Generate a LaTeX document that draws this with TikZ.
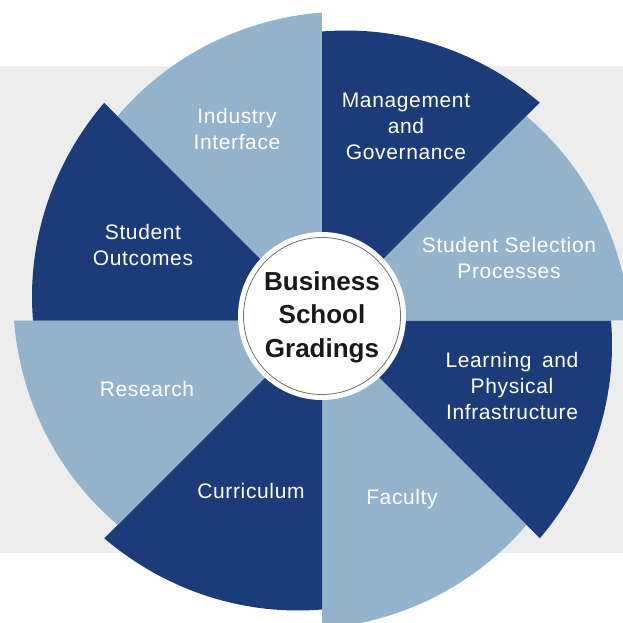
\documentclass[tikz,border=0pt]{standalone}
\usepackage{fontspec}
\setmainfont{Liberation Sans}
\newfontfamily\lblfont[LetterSpace=3]{Liberation Sans}
\definecolor{navy}{HTML}{1B3C78}
\definecolor{steel}{HTML}{93B3CD}
\definecolor{bggrey}{HTML}{EDEDED}
\definecolor{ringgrey}{HTML}{6E6E6E}
\begin{document}
\begin{tikzpicture}[x=1pt,y=1pt,
  lbl/.style={text=white, align=center, font=\lblfont\fontsize{21}{26}\selectfont, inner sep=0pt},
  ctr/.style={text=black!90, align=center, font=\bfseries\fontsize{26}{33.5}\selectfont, inner sep=0pt}]
\useasboundingbox (0,0) rectangle (623,622);
\fill[bggrey] (0,69) rectangle (623,556);
\coordinate (C) at (322,301.5);
\begin{scope}[shift={(322,301.5)}]
\foreach \a/\col in {90/navy,45/steel,0/navy,-45/steel,-90/navy,-135/steel,180/navy,135/steel}{
  \fill[\col] (0,0) -- plot[domain=0:1,samples=50] ({\a-45*\x}:{289+19*\x}) -- cycle;
}
\end{scope}
\node[circle, fill=white, minimum size=168pt, inner sep=0pt] (hub) at (322,306) {};
\draw[ringgrey, line width=0.8pt] (hub.center) circle (78.5);
\node[ctr] (title) at (322,305) {Business\\School\\Gradings};
\node[lbl] (ind) at (237,493) {Industry\\Interface};
\node[lbl] (mgmt) at (406,496) {Management\\and\\Governance};
\node[lbl] (sel) at (509,364.5) {Student Selection\\Processes};
\node[lbl] (lrn) at (512,236) {Learning\enspace and\\Physical\\Infrastructure};
\node[lbl] (fac) at (402,123) {Faculty};
\node[lbl] (cur) at (251,131.5) {Curriculum};
\node[lbl] (res) at (147,233) {Research};
\node[lbl] (out) at (143,377) {Student\\Outcomes};
\end{tikzpicture}
\end{document}
